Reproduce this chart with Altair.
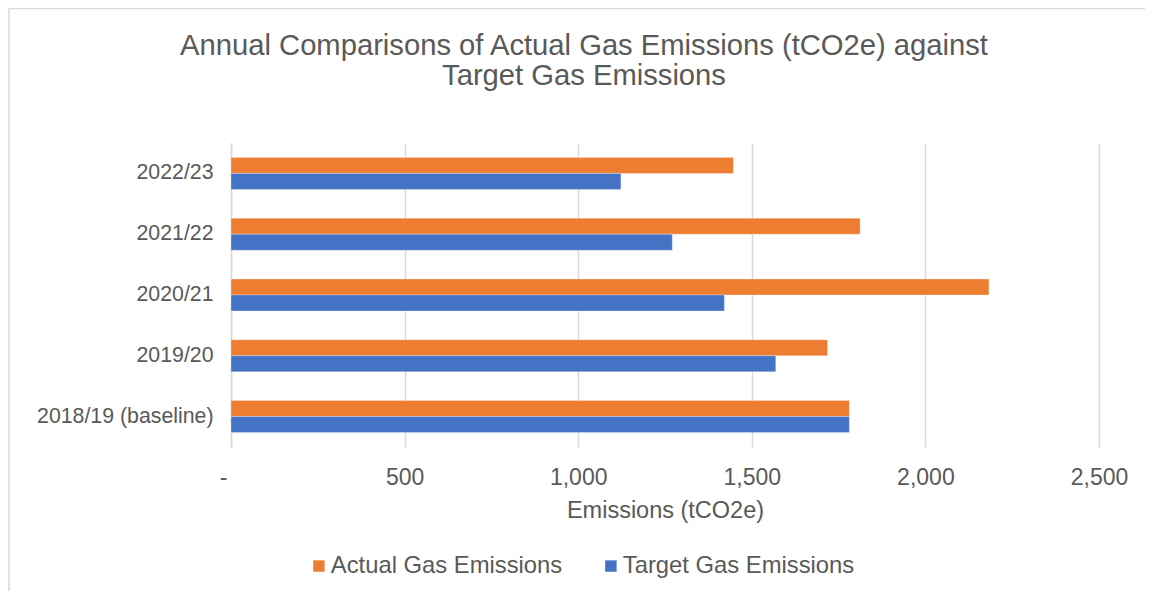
import altair as alt
import pandas as pd

years = ["2022/23", "2021/22", "2020/21", "2019/20", "2018/19 (baseline)"]
actual = [1447, 1812, 2183, 1718, 1781]
target = [1123, 1271, 1421, 1569, 1781]
series = ["Actual Gas Emissions", "Target Gas Emissions"]
colors = ["#ED7D31", "#4472C4"]
x_ticks = [0, 500, 1000, 1500, 2000, 2500]

rows = []
for y, a, t in zip(years, actual, target):
    rows.append({"year": y, "series": series[0], "value": a})
    rows.append({"year": y, "series": series[1], "value": t})
df = pd.DataFrame(rows)

FONT = "Liberation Sans"
TXT = "#595959"
GRID = "#D9D9D9"

bars = alt.Chart(df).mark_bar(stroke="white", strokeWidth=0.6, strokeOpacity=0.5).encode(
    y=alt.Y("year:N", sort=years, title=None,
            scale=alt.Scale(paddingInner=0.474, paddingOuter=0.237),
            axis=alt.Axis(labelFont=FONT, labelFontSize=21.3, labelColor=TXT, labelPadding=18,
                          ticks=False, domainColor=GRID, domainWidth=1.5, grid=False,
                          labelLimit=400)),
    yOffset=alt.YOffset("series:N", sort=series),
    x=alt.X("value:Q", title="Emissions (tCO2e)",
            scale=alt.Scale(domain=[0, 2500], nice=False),
            axis=alt.Axis(values=x_ticks, labelFont=FONT, labelFontSize=23, labelColor=TXT,
                          labelExpr="datum.value == 0 ? '-' : format(datum.value, ',')",
                          labelOffset={"condition": {"test": "datum.value == 0", "value": -8},
                                       "value": 0},
                          labelFlush=False, labelOverlap=False,
                          labelPadding=19, ticks=False, domain=False, grid=True,
                          gridColor=GRID, gridWidth=1.5,
                          titleFont=FONT, titleFontSize=23.5, titleColor=TXT,
                          titleFontWeight="normal", titlePadding=9)),
    color=alt.Color("series:N", sort=series,
                    scale=alt.Scale(domain=series, range=colors),
                    legend=alt.Legend(title=None, orient="none", direction="horizontal",
                                      legendX=76, legendY=411,
                                      symbolType="square", symbolSize=130, symbolStrokeWidth=0,
                                      labelFont=FONT, labelFontSize=23.8, labelColor=TXT,
                                      labelLimit=400, labelOffset=0, columnPadding=36)),
)

frame_df = pd.DataFrame({"k": [0]})
frame_left = alt.Chart(frame_df).mark_rule(color=GRID, strokeWidth=1.5).encode(
    x=alt.value(-222), y=alt.value(-135), y2=alt.value(460))
frame_top = alt.Chart(frame_df).mark_rule(color=GRID, strokeWidth=1.5).encode(
    x=alt.value(-222), x2=alt.value(940), y=alt.value(-134.5))

chart = alt.layer(bars, frame_left, frame_top).properties(
    width=868, height=304,
    padding={"left": 223, "top": 135, "right": 46, "bottom": 144},
    autosize=alt.AutoSizeParams(type="none"),
    title=alt.Title(["Annual Comparisons of Actual Gas Emissions (tCO2e) against",
                     "Target Gas Emissions"],
                    font=FONT, fontSize=29.2, fontWeight="normal", color=TXT,
                    anchor="middle", frame="group", dx=-81,
                    lineHeight=30, offset=-84),
).configure_view(stroke=None)

chart.save("out.html", embed_options={"renderer": "svg", "actions": False})
